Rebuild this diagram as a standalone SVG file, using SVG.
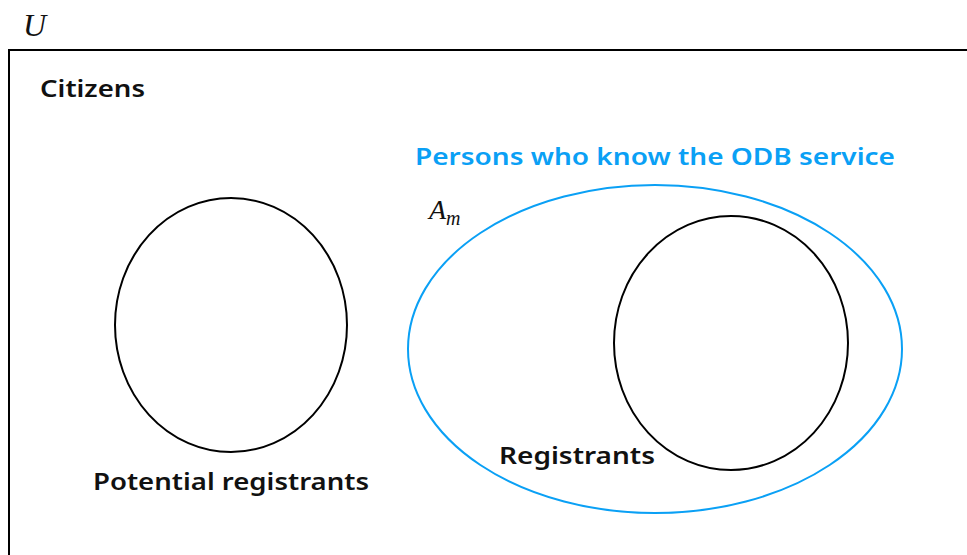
<svg xmlns="http://www.w3.org/2000/svg" width="967" height="555" viewBox="0 0 967 555">
<style>
.lbl{font-family:"Noto Sans","Liberation Sans",sans-serif;font-size:24px;font-weight:600;fill:#111}
.math{font-family:"Liberation Serif","DejaVu Serif",serif;font-style:italic;fill:#111}
.set{fill:none;stroke:#000;stroke-width:2}
</style>
<rect width="967" height="555" fill="#fff"/>
<text class="math" x="23" y="36" font-size="32">U</text>
<g id="universe">
<rect class="set" x="9" y="50" width="980" height="540"/>
<text class="lbl" x="40" y="97" textLength="105" lengthAdjust="spacingAndGlyphs">Citizens</text>
</g>
<g id="potential">
<ellipse class="set" cx="231" cy="325" rx="116" ry="127"/>
<text class="lbl" x="93" y="490" textLength="276" lengthAdjust="spacingAndGlyphs">Potential registrants</text>
</g>
<g id="aware">
<ellipse cx="655" cy="349" rx="247" ry="164" fill="none" stroke="#0aa0f5" stroke-width="2"/>
<text class="lbl" x="415" y="165" style="fill:#0aa0f5" textLength="480" lengthAdjust="spacingAndGlyphs">Persons who know the ODB service</text>
<text class="math" x="429" y="219" font-size="28">A<tspan font-size="20" dy="6">m</tspan></text>
</g>
<g id="registrants">
<ellipse class="set" cx="731" cy="343" rx="117" ry="127"/>
<text class="lbl" x="499" y="464" textLength="156" lengthAdjust="spacingAndGlyphs">Registrants</text>
</g>
</svg>
